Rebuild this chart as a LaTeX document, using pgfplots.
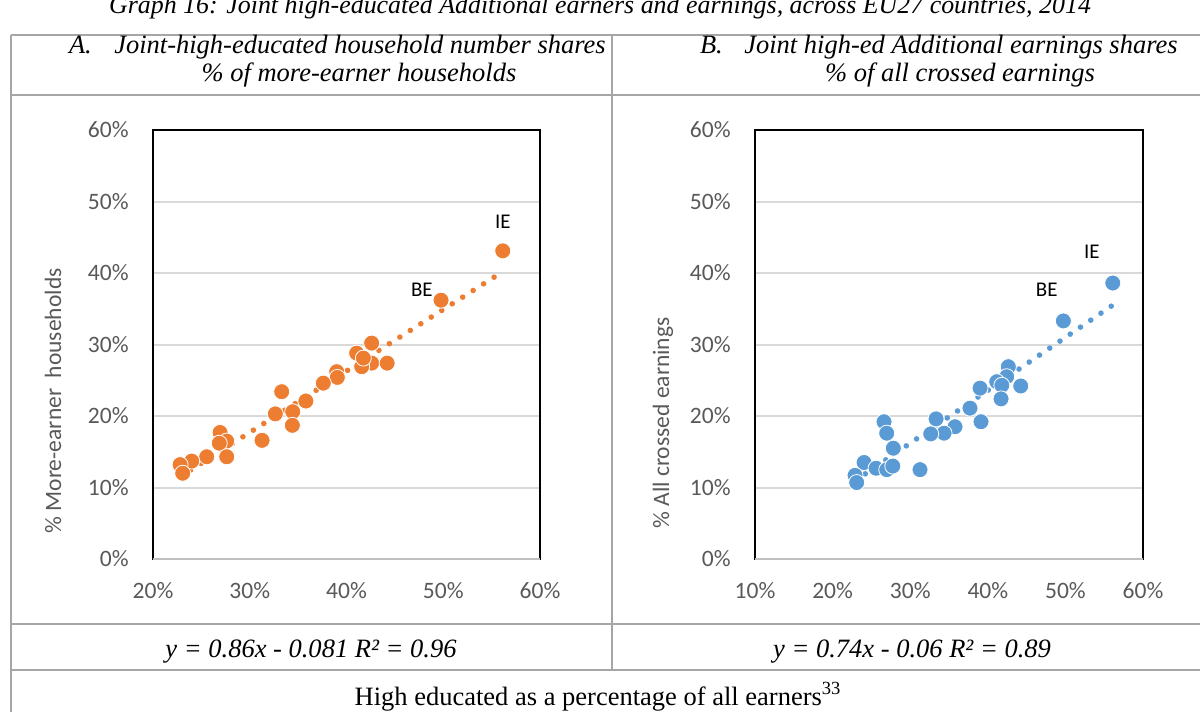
\documentclass[border=0pt]{standalone}
\usepackage{fontspec}
\setmainfont{Liberation Serif}
\newfontfamily\calibri{Carlito}
\usepackage{pgfplots}
\usepackage{pgfplotstable}
\pgfplotsset{compat=1.18}

\definecolor{seriesA}{HTML}{ED7D31}
\definecolor{seriesB}{HTML}{5B9BD5}
\definecolor{tickgray}{HTML}{595959}
\definecolor{gridgray}{HTML}{D9D9D9}
\definecolor{rulegray}{HTML}{A6A6A6}
\definecolor{basegray}{HTML}{BFBFBF}

% Panel A: high educated share of earners (x) vs joint-high-educated household share (y), %
\pgfplotstableread{
x y
56.15 43.1
49.77 36.2
42.60 30.2
41.05 28.8
42.60 27.4
41.57 26.9
44.20 27.4
41.74 28.1
38.99 26.2
39.05 25.4
37.60 24.6
35.80 22.1
33.30 23.4
34.44 20.6
34.40 18.7
32.64 20.3
31.27 16.6
26.93 17.7
27.62 16.5
26.85 16.2
27.62 14.3
25.55 14.3
24.00 13.7
22.80 13.2
23.07 12.0
}\dataA

% Panel B: high educated share of earners (x) vs joint high-ed additional earnings share (y), %
\pgfplotstableread{
x y
56.10 38.6
49.73 33.3
42.64 26.9
42.43 25.5
41.15 24.8
41.80 24.3
44.24 24.2
39.00 23.9
41.70 22.4
37.70 21.1
39.12 19.2
33.33 19.6
35.77 18.5
34.36 17.6
32.64 17.5
26.62 19.2
26.97 17.6
27.82 15.5
24.05 13.5
25.60 12.7
26.97 12.5
27.75 13.0
31.26 12.5
22.89 11.7
23.10 10.7
}\dataB

\tikzset{lbl/.style={font=\calibri\fontsize{10.5}{12}\selectfont, text=black}}

\pgfplotsset{
  panel/.style={
    scale only axis, height=214.5bp, anchor=south west,
    ymin=0, ymax=60, ytick={0,10,...,60},
    yticklabels={0\%,10\%,20\%,30\%,40\%,50\%,60\%},
    ymajorgrids, grid style={draw=gridgray, line width=1bp},
    axis line style={draw=black, line width=1bp},
    major tick length=0pt, tick style={draw=none},
    /pgf/number format/assume math mode=true,
    ticklabel style={font=\calibri\fontsize{11.8}{14}\selectfont, text=tickgray, inner sep=0pt},
    yticklabel style={anchor=east, xshift=-12bp},
    xticklabel style={anchor=north, yshift=-11.5bp},
    clip=false,
  },
  dots/.style={only marks, mark=*, mark size=4bp,
    mark options={fill=#1, draw=white, line width=0.4bp}},
  trend/.style={draw=#1, line width=2.8bp, line cap=round,
    dash pattern=on 0pt off 6.2bp},
}

\begin{document}
\begin{tikzpicture}[x=0.5bp, y=-0.5bp]
\useasboundingbox (0,0) rectangle (1200,712);
\clip (0,0) rectangle (1200,712);

% caption, partly above the page edge
\node[anchor=base, font=\itshape\fontsize{13}{16}\selectfont] at (600,13)
  {Graph 16: Joint high-educated Additional earners and earnings, across EU27 countries, 2014};

% table rules
\begin{scope}[draw=rulegray, line width=1bp]
  \draw (11,35) -- (11,712);
  \draw (612,35) -- (612,670);
  \draw (11,35) -- (1200,35);
  \draw (11,95) -- (1200,95);
  \draw (11,624) -- (1200,624);
  \draw (11,670) -- (1200,670);
\end{scope}

% panel headings
\begin{scope}[font=\itshape\fontsize{13.3}{16}\selectfont]
  \node[anchor=base west] at (62,53) {A.};
  \node[anchor=base] at (360,53) {Joint-high-educated household number shares};
  \node[anchor=base] at (359,81) {\% of more-earner households};
  \node[anchor=base west] at (693,53) {B.};
  \node[anchor=base] at (961,53) {Joint high-ed Additional earnings shares};
  \node[anchor=base] at (960,81) {\% of all crossed earnings};
  \node[anchor=base] at (311,657) {y = 0.86x - 0.081 R² = 0.96};
  \node[anchor=base] at (912,657) {y = 0.74x - 0.06 R² = 0.89};
\end{scope}
\node[anchor=base, font=\fontsize{13.3}{16}\selectfont] at (598,705)
  {High educated as a percentage of all earners\textsuperscript{33}};

% y-axis titles
\node[rotate=90, font=\calibri\fontsize{11.8}{14}\selectfont, text=tickgray] at (53,401)
  {\% More-earner\ \ households};
\node[rotate=90, font=\calibri\fontsize{11.8}{14}\selectfont, text=tickgray] at (663,423)
  {\% All crossed earnings};

% Panel A
\begin{axis}[panel, at={(76.5bp,-279.5bp)}, width=193.5bp,
  xmin=20, xmax=60, xtick={20,30,...,60},
  xticklabels={20\%,30\%,40\%,50\%,60\%}]
  \draw[basegray, line width=1bp] (rel axis cs:0,0) -- (rel axis cs:1,0);
  \addplot[dots=seriesA] table[x=x, y=y] {\dataA};
  \addplot[trend=seriesA] coordinates {(22.8,11.51) (56.15,40.19)};
  \node[lbl, yshift=14.3bp] at (axis cs:56.15,43.1) {IE};
  \node[lbl, xshift=-9.6bp, yshift=5.2bp] at (axis cs:49.77,36.2) {BE};
\end{axis}

% Panel B
\begin{axis}[panel, at={(377.5bp,-279.5bp)}, width=194bp,
  xmin=10, xmax=60, xtick={10,20,...,60},
  xticklabels={10\%,20\%,30\%,40\%,50\%,60\%}]
  \draw[basegray, line width=1bp] (rel axis cs:0,0) -- (rel axis cs:1,0);
  \addplot[dots=seriesB] table[x=x, y=y] {\dataB};
  \addplot[trend=seriesB] coordinates {(22.89,10.94) (56.10,35.51)};
  \node[lbl, xshift=-10.5bp, yshift=15.5bp] at (axis cs:56.10,38.6) {IE};
  \node[lbl, xshift=-8.3bp, yshift=15.7bp] at (axis cs:49.73,33.3) {BE};
\end{axis}
\end{tikzpicture}
\end{document}
